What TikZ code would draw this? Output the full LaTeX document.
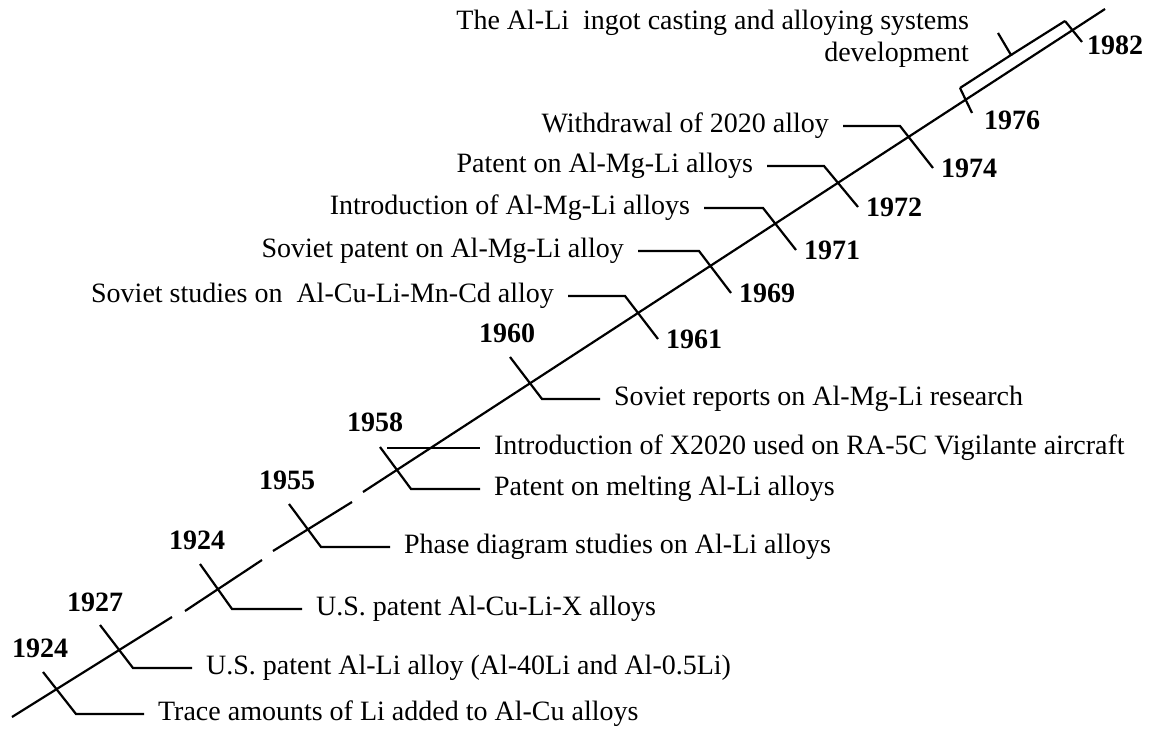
\documentclass[tikz,border=0pt]{standalone}
\usepackage{fontspec}
\setmainfont{Liberation Serif}
\usepackage{tikz}
\tikzset{
  event/.style={font=\fontsize{14}{16}\selectfont,inner xsep=6.5pt,inner ysep=1pt},
  yearlbl/.style={font=\fontsize{14}{16}\selectfont\bfseries,inner sep=3.5pt}
}

\begin{document}
\begin{tikzpicture}[x=0.5pt,y=-0.5pt,line width=1.1pt]
  \useasboundingbox (0,0) rectangle (1149,731);
  % time axis, broken three times
  \draw (12,717) -- (172,617);
  \draw (185,611) -- (262,560);
  \draw (273,551) -- (352,502);
  \draw (363,492) -- (1105,9);
  % events below the axis
  \coordinate (s24a) at (43,672);
  \coordinate (b24a) at (76,714);
  \node[event,right] (e24a) at (144,714) {Trace amounts of Li added to Al-Cu alloys};
  \draw (s24a) -- (b24a) -- (e24a);
  \node[yearlbl] (y24a) at (40,648) {1924};
  \coordinate (s27) at (100,625);
  \coordinate (b27) at (133,668);
  \node[event,right] (e27) at (192,668) {U.S. patent Al-Li alloy (Al-40Li and Al-0.5Li)};
  \draw (s27) -- (b27) -- (e27);
  \node[yearlbl] (y27) at (95,602) {1927};
  \coordinate (s24b) at (200,564);
  \coordinate (b24b) at (232,609);
  \node[event,right] (e24b) at (302,609) {U.S. patent Al-Cu-Li-X alloys};
  \draw (s24b) -- (b24b) -- (e24b);
  \node[yearlbl] (y24b) at (197,540) {1924};
  \coordinate (s55) at (289,504);
  \coordinate (b55) at (321,547);
  \node[event,right] (e55) at (390,547) {Phase diagram studies on Al-Li alloys};
  \draw (s55) -- (b55) -- (e55);
  \node[yearlbl] (y55) at (287,480) {1955};
  \coordinate (s58) at (380,447);
  \coordinate (b58) at (411,489);
  \node[event,right] (e58) at (480,489) {Patent on melting Al-Li alloys};
  \draw (s58) -- (b58) -- (e58);
  \coordinate (u58) at (387,448);
  \node[event,right] (f58) at (480,448) {Introduction of X2020 used on RA-5C Vigilante aircraft};
  \draw (u58) -- (f58);
  \node[yearlbl] (y58) at (375,422) {1958};
  \coordinate (s60) at (510,357);
  \coordinate (b60) at (542,399);
  \node[event,right] (e60) at (600,399) {Soviet reports on Al-Mg-Li research};
  \draw (s60) -- (b60) -- (e60);
  \node[yearlbl] (y60) at (507,333) {1960};
  % events above the axis
  \node[event,left] (e61) at (568,296) {Soviet studies on\ \ Al-Cu-Li-Mn-Cd alloy};
  \coordinate (b61) at (625,296);
  \coordinate (n61) at (658,339);
  \draw (e61) -- (b61) -- (n61);
  \node[yearlbl,right] (y61) at (n61) {1961};
  \node[event,left] (e69) at (638,251) {Soviet patent on Al-Mg-Li alloy};
  \coordinate (b69) at (699,251);
  \coordinate (n69) at (731,293);
  \draw (e69) -- (b69) -- (n69);
  \node[yearlbl,right] (y69) at (n69) {1969};
  \node[event,left] (e71) at (704,208) {Introduction of Al-Mg-Li alloys};
  \coordinate (b71) at (763,208);
  \coordinate (n71) at (796,250);
  \draw (e71) -- (b71) -- (n71);
  \node[yearlbl,right] (y71) at (n71) {1971};
  \node[event,left] (e72) at (767,166) {Patent on Al-Mg-Li alloys};
  \coordinate (b72) at (824,166);
  \coordinate (n72) at (858,207);
  \draw (e72) -- (b72) -- (n72);
  \node[yearlbl,right] (y72) at (n72) {1972};
  \node[event,left] (e74) at (843,126) {Withdrawal of 2020 alloy};
  \coordinate (b74) at (900,126);
  \coordinate (n74) at (933,168);
  \draw (e74) -- (b74) -- (n74);
  \node[yearlbl,right] (y74) at (n74) {1974};
  % bracket 1976--1982
  \node[event,anchor=east,align=right] (e82) at (983,39) {The Al-Li\ \ ingot casting and alloying systems\\development};
  \coordinate (k76) at (960,88);
  \coordinate (kmid) at (1011,55);
  \coordinate (ktip) at (998,33);
  \coordinate (k82) at (1065,21);
  \coordinate (n76) at (972,113);
  \coordinate (n82) at (1082,42);
  \draw (k76) -- (kmid) -- (ktip);
  \draw (kmid) -- (k82);
  \draw (k76) -- (n76);
  \draw (k82) -- (n82);
  \node[yearlbl] (y76) at (1012,120) {1976};
  \node[yearlbl] (y82) at (1115,45) {1982};
\end{tikzpicture}
\end{document}
